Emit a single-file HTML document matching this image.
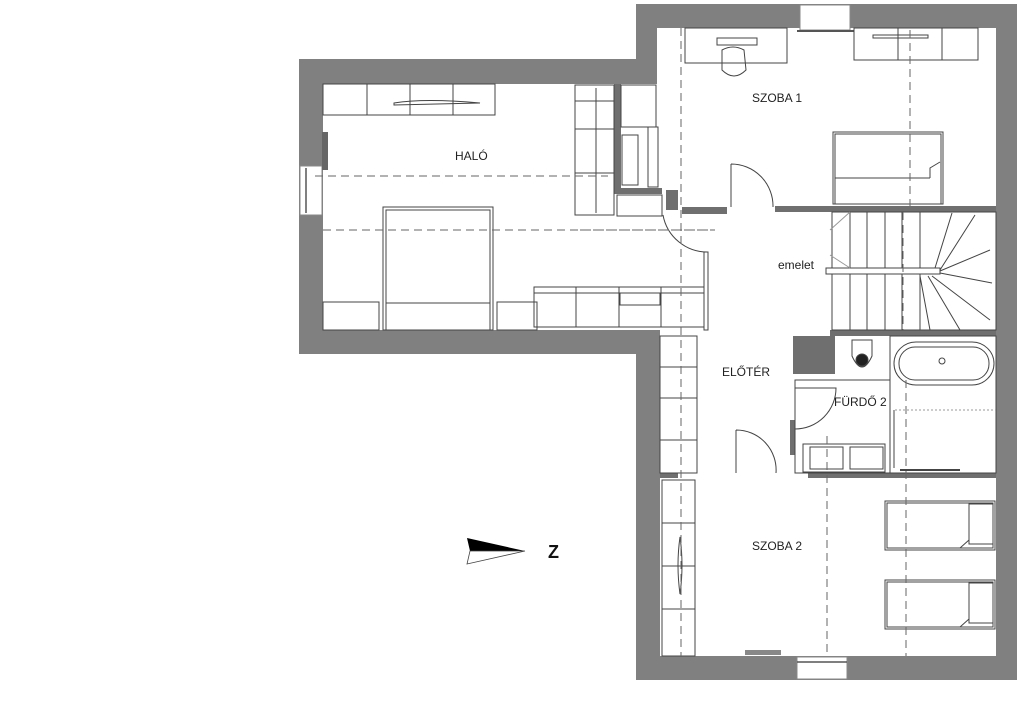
<!DOCTYPE html>
<html><head><meta charset="utf-8"><style>
html,body{margin:0;padding:0;background:#fff;}
svg{display:block;}
text{font-family:"Liberation Sans",sans-serif;font-size:12px;fill:#222;}
</style></head><body>
<svg width="1024" height="701" viewBox="0 0 1024 701" xmlns="http://www.w3.org/2000/svg">
<!-- outer walls -->
<path fill="#808080" fill-rule="evenodd" d="M299,59 L636,59 L636,4 L1017,4 L1017,680 L636,680 L636,354 L299,354 Z
 M323,84 L323,330 L660,330 L660,656 L996,656 L996,28 L657,28 L657,84 Z"/>
<!-- windows -->
<rect x="800" y="5" width="50" height="25" fill="#fff" stroke="#888" stroke-width="1"/>
<line x1="797" y1="31" x2="854" y2="31" stroke="#555" stroke-width="2"/>
<rect x="797" y="657" width="50" height="22" fill="#fff" stroke="#888"/>
<line x1="797" y1="662" x2="847" y2="662" stroke="#555" stroke-width="1.5"/>
<rect x="300" y="166" width="22" height="49" fill="#fff" stroke="#888"/>
<line x1="306" y1="168" x2="306" y2="213" stroke="#555" stroke-width="1.5"/>
<!-- radiators -->
<rect x="322" y="132" width="6" height="38" fill="#666"/>
<rect x="745" y="650" width="36" height="5" fill="#888"/>
<!-- internal walls -->
<g fill="#6f6f6f">
<rect x="775" y="206" width="221" height="6"/>
<rect x="830" y="330" width="166" height="6"/>
<rect x="808" y="473" width="188" height="5"/>
<rect x="660" y="473" width="18" height="5"/>
<rect x="793" y="336" width="42" height="38"/>
<rect x="790" y="420" width="5" height="35"/>
<rect x="614" y="84" width="7" height="110"/>
<rect x="614" y="188" width="48" height="6"/>
<rect x="682" y="207" width="45" height="7"/>
<rect x="666" y="190" width="12" height="20"/>
</g>
<g fill="none" stroke="#444" stroke-width="1">
<!-- HALO furniture -->
<rect x="323" y="84" width="172" height="31"/>
<line x1="367" y1="84" x2="367" y2="115"/><line x1="410" y1="84" x2="410" y2="115"/><line x1="453" y1="84" x2="453" y2="115"/>
<path d="M394,103 Q425,98 480,103 L394,105 Z"/>
<rect x="383" y="207" width="110" height="123"/>
<rect x="386" y="210" width="104" height="120"/>
<line x1="386" y1="303" x2="490" y2="303"/>
<rect x="323" y="302" width="56" height="28"/>
<rect x="497" y="302" width="40" height="28"/>
<rect x="575" y="85" width="39" height="130"/>
<line x1="575" y1="101" x2="614" y2="101"/><line x1="575" y1="129" x2="614" y2="129"/><line x1="575" y1="173" x2="614" y2="173"/>
<line x1="596" y1="88" x2="596" y2="213"/>
<rect x="621" y="85" width="35" height="42"/>
<rect x="622" y="135" width="16" height="50"/>
<rect x="648" y="127" width="10" height="60"/>
<rect x="617" y="195" width="45" height="21"/>
<rect x="534" y="287" width="170" height="40"/>
<line x1="534" y1="293" x2="704" y2="293"/><line x1="576" y1="287" x2="576" y2="327"/>
<line x1="619" y1="287" x2="619" y2="327"/><line x1="661" y1="287" x2="661" y2="327"/>
<rect x="620" y="293" width="40" height="12"/>
<!-- doors -->
<path d="M663,215 A45,45 0 0 0 708,252"/>
<rect x="704" y="252" width="4" height="78"/>
<path d="M731,164 L731,207 M731,164 A42,42 0 0 1 773,207"/>
<path d="M736,430 L736,473 M736,430 A40,40 0 0 1 776,473"/>
<path d="M795,388 L836,388 A41,41 0 0 1 795,429"/>
<!-- szoba1 -->
<rect x="685" y="28" width="102" height="35"/>
<rect x="717" y="38" width="40" height="7"/>
<path d="M722,50 Q733,44 744,50 L746,70 Q734,82 722,70 Z"/>
<rect x="854" y="28" width="124" height="32"/>
<line x1="898" y1="28" x2="898" y2="60"/><line x1="942" y1="28" x2="942" y2="60"/>
<rect x="873" y="35" width="55" height="3"/>
<rect x="833" y="132" width="110" height="72"/>
<rect x="835" y="134" width="106" height="70"/>
<line x1="835" y1="178" x2="930" y2="178"/>
<path d="M930,178 L930,168 L940,162"/>
<!-- eloter wardrobe -->
<rect x="660" y="336" width="37" height="137"/>
<line x1="660" y1="367" x2="697" y2="367"/><line x1="660" y1="398" x2="697" y2="398"/><line x1="660" y1="440" x2="697" y2="440"/>
<line x1="697" y1="336" x2="697" y2="473"/>
<!-- stairs -->
<rect x="832" y="212" width="164" height="118"/>
<line x1="850" y1="212" x2="850" y2="330"/><line x1="867" y1="212" x2="867" y2="330"/>
<line x1="885" y1="212" x2="885" y2="330"/><line x1="902" y1="212" x2="902" y2="330"/>
<line x1="920" y1="212" x2="920" y2="330"/>
<rect x="826" y="268" width="114" height="6" fill="#fff"/>
<path d="M940,271 L990,250 M940,270 L975,215 M935,268 L952,213 M940,273 L992,283 M932,276 L990,320 M928,276 L960,330 M920,276 L930,330"/>
<path d="M830,230 L850,212 M830,255 L850,268" stroke="#999"/>
<!-- bathroom -->
<rect x="795" y="380" width="95" height="93"/>
<rect x="890" y="336" width="106" height="137"/>
<rect x="894" y="342" width="100" height="43" rx="22"/>
<rect x="899" y="347" width="90" height="33" rx="16"/>
<circle cx="942" cy="361" r="3"/>
<path d="M852,340 L872,340 L872,356 Q862,378 852,356 Z"/>
<circle cx="862" cy="360" r="6" fill="#222"/>
<rect x="803" y="444" width="82" height="28"/>
<rect x="810" y="447" width="33" height="22"/><rect x="850" y="447" width="33" height="22"/>
<line x1="895" y1="410" x2="996" y2="410" stroke-dasharray="2,2" stroke="#999"/>
<line x1="894" y1="410" x2="894" y2="468"/>
<line x1="900" y1="470" x2="960" y2="470" stroke-width="2"/>
<!-- szoba2 -->
<rect x="662" y="480" width="33" height="176"/>
<line x1="662" y1="523" x2="695" y2="523"/><line x1="662" y1="566" x2="695" y2="566"/><line x1="662" y1="609" x2="695" y2="609"/>
<path d="M680,537 Q676,565 680,594 Q684,565 680,537 Z"/>
<rect x="885" y="501" width="110" height="49"/><rect x="887" y="503" width="106" height="45"/>
<rect x="969" y="504" width="24" height="40"/><path d="M960,548 L969,540"/>
<rect x="885" y="580" width="110" height="49"/><rect x="887" y="582" width="106" height="45"/>
<rect x="969" y="583" width="24" height="40"/><path d="M960,627 L969,619"/>
</g>
<!-- dashed axis lines -->
<g stroke="#666" stroke-width="1" stroke-dasharray="8,5" fill="none">
<line x1="315" y1="176" x2="608" y2="176"/>
<line x1="323" y1="230" x2="715" y2="230"/>
<line x1="580" y1="230" x2="715" y2="230"/>
<line x1="681" y1="28" x2="681" y2="656"/>
<line x1="910" y1="30" x2="910" y2="206"/>
<line x1="903" y1="212" x2="903" y2="330"/>
<line x1="906" y1="380" x2="906" y2="656"/>
<line x1="827" y1="436" x2="827" y2="656"/>
</g>
<!-- north arrow -->
<polygon points="467,538 525,551 470,551" fill="#000"/>
<polygon points="470,551 525,551 467,564" fill="#fff" stroke="#444" stroke-width="0.8"/>
<text x="548" y="558" style="font-size:18px;font-weight:bold;fill:#111">Z</text>
<!-- labels -->
<text x="455" y="160">HALÓ</text>
<text x="752" y="102">SZOBA 1</text>
<text x="778" y="269">emelet</text>
<text x="722" y="376">ELŐTÉR</text>
<text x="834" y="406">FÜRDŐ 2</text>
<text x="752" y="550">SZOBA 2</text>
</svg>
</body></html>
